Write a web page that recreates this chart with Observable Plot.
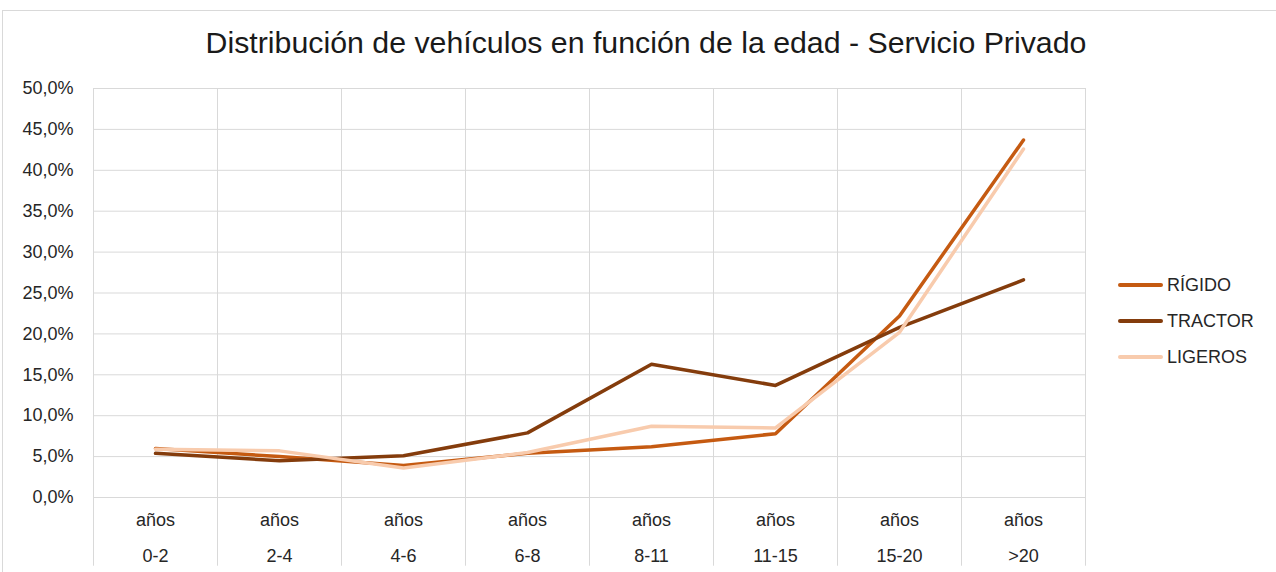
<!DOCTYPE html>
<html><head><meta charset="utf-8">
<script src="https://cdn.jsdelivr.net/npm/d3@7"></script>
<script src="https://cdn.jsdelivr.net/npm/@observablehq/plot@0.6"></script>
<style>
body{margin:0;background:#fff;font-family:"Liberation Sans",Arial,sans-serif;overflow:hidden}
#wrap{position:relative;width:1276px;height:572px;overflow:hidden}
#frame{position:absolute;left:2px;top:10px;width:1320px;height:620px;border:1px solid #d9d9d9;box-sizing:border-box}
#title{position:absolute;left:0;width:1292px;top:25.5px;text-align:center;font-size:30.3px;color:#1a1a1a;white-space:nowrap}
#chart{position:absolute;left:0;top:0}
#legend{position:absolute;left:1118px;top:267px;font-size:18px;color:#262626}
.row{display:flex;align-items:center;height:36px}
.row span.sw{display:inline-block;width:45px;height:4px;border-radius:2px;margin-right:4px}
</style></head>
<body>
<div id="wrap">
  <div id="frame"></div>
  <div id="chart"></div>
  <div id="title">Distribución de vehículos en función de la edad - Servicio Privado</div>
  <div id="legend"></div>
</div>
<script>
const categories = ["0-2","2-4","4-6","6-8","8-11","11-15","15-20",">20"];
const seriesNames = ["RÍGIDO","TRACTOR","LIGEROS"];
const seriesColors = ["#C55A11","#843C0C","#F8CBAD"];
const rigido  = [6.0, 5.0, 3.9, 5.4, 6.2, 7.8, 22.2, 43.7];
const tractor = [5.4, 4.5, 5.1, 7.9, 16.3, 13.7, 20.8, 26.6];
const ligeros = [5.9, 5.7, 3.6, 5.5, 8.7, 8.5, 20.2, 42.6];
const yTicks = [0,5,10,15,20,25,30,35,40,45,50];

const seriesValues = [rigido, tractor, ligeros];
const data = [];
seriesNames.forEach((s, k) => seriesValues[k].forEach((v, i) => data.push({series: s, i, value: v})));
const catIdx = categories.map((c, i) => i);
const bounds = categories.map((c, i) => i).concat([categories.length]);

const chart = Plot.plot({
  width: 1276, height: 572,
  marginLeft: 93, marginRight: 191, marginTop: 88, marginBottom: 75,
  style: {fontFamily: "Liberation Sans, Arial, sans-serif", fontSize: "18px", color: "#262626", background: "transparent"},
  x: {type: "linear", domain: [0, categories.length]},
  y: {domain: [0, 50]},
  color: {domain: seriesNames, range: seriesColors},
  marks: [
    Plot.ruleY(yTicks, {stroke: "#d9d9d9", strokeWidth: 1}),
    Plot.ruleX(bounds, {y1: -8.4, y2: 50, stroke: "#d9d9d9", strokeWidth: 1}),
    Plot.line(data, {x: d => d.i + 0.5, y: "value", z: "series", stroke: "series", strokeWidth: 3.5, strokeLinecap: "round", strokeLinejoin: "round"}),
    Plot.axisY(yTicks, {label: null, tickSize: 0, tickPadding: 20, fontSize: 18, fill: "#262626", tickFormat: d => d.toFixed(1).replace(".", ",") + "%"}),
    Plot.axisX(catIdx.map(i => i + 0.5), {label: null, tickSize: 0, tickPadding: 3, fontSize: 18, fill: "#262626", lineHeight: 2.0, tickFormat: (d) => "años\n" + categories[Math.round(d - 0.5)]})
  ]
});
document.getElementById("chart").appendChild(chart);

const leg = document.getElementById("legend");
seriesNames.forEach((s, k) => {
  const r = document.createElement("div");
  r.className = "row";
  r.innerHTML = `<span class="sw" style="background:${seriesColors[k]}"></span><span>${s}</span>`;
  leg.appendChild(r);
});
</script>
</body></html>
